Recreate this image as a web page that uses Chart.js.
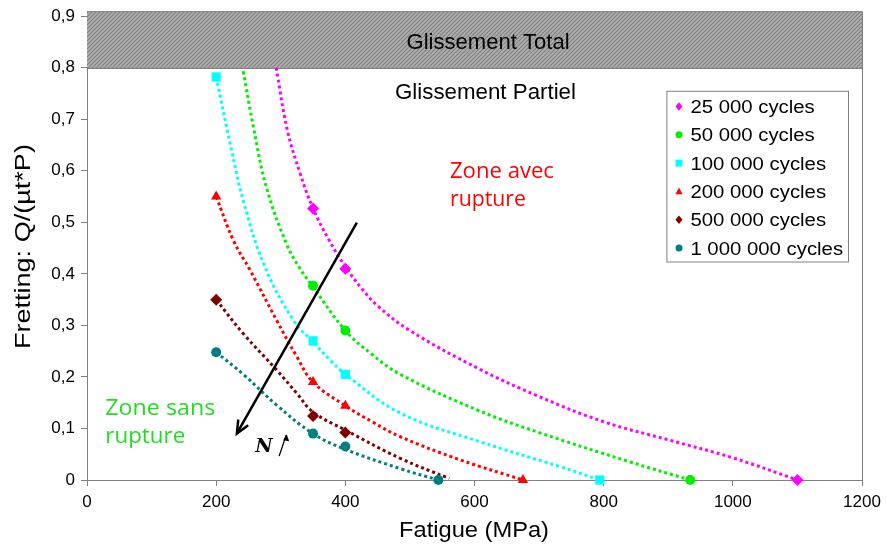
<!DOCTYPE html>
<html lang="fr">
<head>
<meta charset="UTF-8">
<title>Fretting / Fatigue</title>
<script src="https://cdn.jsdelivr.net/npm/chart.js"></script>
<style>
  html, body { margin: 0; padding: 0; background: #fff; }
</style>
</head>
<body>
<canvas id="chart" width="887" height="544"></canvas>
<script>
// series
const seriesNames = ['25 000 cycles', '50 000 cycles', '100 000 cycles', '200 000 cycles', '500 000 cycles', '1 000 000 cycles'];
const seriesColors = ['#ff00ff', '#00ee00', '#00ffff', '#ff0000', '#800000', '#007f80'];
const seriesMarkers = ['rectRot', 'circle', 'rect', 'triangle', 'rectRot', 'circle'];

// measured points : Fatigue (MPa) / Fretting Q/(µt*P)
const fatigue25k = [350, 400, 1100];
const fretting25k = [0.527, 0.41, 0];
const fatigue50k = [350, 400, 934];
const fretting50k = [0.377, 0.29, 0];
const fatigue100k = [200, 350, 400, 794];
const fretting100k = [0.782, 0.27, 0.205, 0];
const fatigue200k = [200, 350, 400, 675];
const fretting200k = [0.55, 0.19, 0.144, 0];
const fatigue500k = [200, 350, 400];
const fretting500k = [0.35, 0.124, 0.092];
const fatigue1M = [200, 350, 400, 544];
const fretting1M = [0.248, 0.09, 0.065, 0];

// dotted trend curves
const trendX25k = [293, 310, 330, 350, 375, 400, 425, 450, 500, 608, 700, 800, 900, 1000, 1100];
const trendY25k = [0.8, 0.68, 0.595, 0.527, 0.465, 0.414, 0.372, 0.338, 0.29, 0.215, 0.162, 0.113, 0.078, 0.043, 0];
const trendX50k = [242, 258, 278, 309, 330, 350, 400, 440, 485, 608, 700, 841, 934];
const trendY50k = [0.793, 0.683, 0.567, 0.458, 0.41, 0.375, 0.29, 0.245, 0.205, 0.134, 0.092, 0.035, 0];
const trendX100k = [200, 222, 242, 275, 320, 350, 377, 400, 485, 609, 732, 794];
const trendY100k = [0.782, 0.651, 0.542, 0.415, 0.309, 0.268, 0.232, 0.205, 0.13, 0.074, 0.026, 0];
const trendX200k = [200, 227, 253, 294, 325, 350, 400, 443, 485, 578, 675];
const trendY200k = [0.55, 0.464, 0.406, 0.309, 0.239, 0.19, 0.144, 0.112, 0.084, 0.039, 0];
const trendX500k = [200, 242, 294, 325, 350, 400, 485, 561];
const trendY500k = [0.35, 0.284, 0.213, 0.168, 0.132, 0.097, 0.042, 0.003];
const trendX1M = [200, 242, 294, 350, 397, 485, 544];
const trendY1M = [0.248, 0.205, 0.145, 0.09, 0.061, 0.022, 0];

// axes
const xTicks = [0, 200, 400, 600, 800, 1000, 1200];
const yTicks = [0, 0.1, 0.2, 0.3, 0.4, 0.5, 0.6, 0.7, 0.8, 0.9];
const totalSlipFrom = 0.8;

const pointSets = [[fatigue25k, fretting25k], [fatigue50k, fretting50k], [fatigue100k, fretting100k],
                   [fatigue200k, fretting200k], [fatigue500k, fretting500k], [fatigue1M, fretting1M]];
const trendSets = [[trendX25k, trendY25k], [trendX50k, trendY50k], [trendX100k, trendY100k],
                   [trendX200k, trendY200k], [trendX500k, trendY500k], [trendX1M, trendY1M]];

function zip(xs, ys) { return xs.map((x, i) => ({ x: x, y: ys[i] })); }

const markerSize = [6, 5, 6.5, 6, 6, 5];
var datasets = [];
pointSets.forEach((s, i) => {
    datasets.push({
        type: 'scatter',
        label: seriesNames[i],
        data: zip(s[0], s[1]),
        pointStyle: seriesMarkers[i],
        pointRadius: markerSize[i],
        backgroundColor: seriesColors[i],
        borderColor: seriesColors[i],
        borderWidth: 0,
        clip: false,
        order: 0
    });
});
trendSets.forEach((s, i) => {
    datasets.push({
        type: 'line',
        label: 'trend ' + seriesNames[i],
        data: zip(s[0], s[1]),
        showLine: true,
        borderColor: seriesColors[i],
        borderWidth: 3,
        borderDash: [3, 3],
        borderCapStyle: 'butt',
        pointRadius: 0,
        fill: false,
        tension: 0.4,
        clip: false,
        order: 1
    });
});

const FONT = "'Liberation Sans', Arial, sans-serif";

function fitText(ctx, text, x, y, font, width, align) {
    ctx.save();
    ctx.font = font;
    const w = ctx.measureText(text).width;
    const s = width ? width / w : 1;
    ctx.translate(x, y);
    ctx.scale(s, 1);
    ctx.textAlign = align || 'center';
    ctx.textBaseline = 'alphabetic';
    ctx.fillText(text, 0, 0);
    ctx.restore();
}

function drawMarker(ctx, style, x, y, r, color) {
    ctx.fillStyle = color;
    ctx.beginPath();
    if (style === 'circle') ctx.arc(x, y, r, 0, Math.PI * 2);
    else if (style === 'rect') ctx.rect(x - r, y - r, 2 * r, 2 * r);
    else if (style === 'rectRot') { ctx.moveTo(x, y - r * 1.2); ctx.lineTo(x + r, y); ctx.lineTo(x, y + r * 1.2); ctx.lineTo(x - r, y); }
    else if (style === 'triangle') { ctx.moveTo(x, y - r * 1.1); ctx.lineTo(x + r, y + r * 0.8); ctx.lineTo(x - r, y + r * 0.8); }
    ctx.closePath();
    ctx.fill();
}

function drawArrow(ctx, x1, y1, x2, y2, head, spread) {
    ctx.beginPath(); ctx.moveTo(x1, y1); ctx.lineTo(x2, y2); ctx.stroke();
    const a = Math.atan2(y2 - y1, x2 - x1);
    ctx.beginPath();
    ctx.moveTo(x2 - head * Math.cos(a - spread), y2 - head * Math.sin(a - spread));
    ctx.lineTo(x2, y2);
    ctx.lineTo(x2 - head * Math.cos(a + spread), y2 - head * Math.sin(a + spread));
    ctx.stroke();
}

function hatch(ctx) {
    const c = document.createElement('canvas');
    c.width = 4; c.height = 4;
    const g = c.getContext('2d');
    g.fillStyle = '#b0b0b0';
    g.fillRect(0, 0, 4, 4);
    g.strokeStyle = '#808080';
    g.lineWidth = 1.2;
    g.beginPath();
    g.moveTo(0, 4); g.lineTo(4, 0);
    g.moveTo(-1, 1); g.lineTo(1, -1);
    g.moveTo(3, 5); g.lineTo(5, 3);
    g.stroke();
    return ctx.createPattern(c, 'repeat');
}

const decor = {
    id: 'decor',
    beforeDatasetsDraw(chart) {
        const ctx = chart.ctx, ca = chart.chartArea, sy = chart.scales.y;
        const top = ca.top - 5, yb = sy.getPixelForValue(totalSlipFrom);
        ctx.save();
        ctx.fillStyle = hatch(ctx);
        ctx.fillRect(ca.left, top, ca.right - ca.left, yb - top);
        ctx.strokeStyle = '#555';
        ctx.lineWidth = 1;
        ctx.beginPath(); ctx.moveTo(ca.left, yb + 0.5); ctx.lineTo(ca.right, yb + 0.5); ctx.stroke();
        // plot frame top / right
        ctx.strokeStyle = '#808080';
        ctx.beginPath();
        ctx.moveTo(ca.left, top + 0.5); ctx.lineTo(ca.right + 0.5, top + 0.5); ctx.lineTo(ca.right + 0.5, ca.bottom);
        ctx.stroke();
        ctx.restore();
    },
    afterDraw(chart) {
        const ctx = chart.ctx, ca = chart.chartArea;
        const sx = chart.scales.x, sy = chart.scales.y;
        const px = v => sx.getPixelForValue(v), py = v => sy.getPixelForValue(v);
        ctx.save();
        ctx.fillStyle = '#000';
        fitText(ctx, 'Glissement Total', px(621), py(0.8356), '22px ' + FONT, 163);
        fitText(ctx, 'Glissement Partiel', px(617), py(0.739), '22px ' + FONT, 181);

        ctx.fillStyle = '#ff0000';
        fitText(ctx, 'Zone avec', px(562), py(0.586), "22px 'Open Sans', sans-serif", 104, 'left');
        fitText(ctx, 'rupture', px(562), py(0.532), "22px 'Open Sans', sans-serif", 76, 'left');
        ctx.fillStyle = '#22dd22';
        fitText(ctx, 'Zone sans', px(28.3), py(0.1257), "22px 'Open Sans', sans-serif", 110, 'left');
        fitText(ctx, 'rupture', px(28.3), py(0.0716), "22px 'Open Sans', sans-serif", 80, 'left');

        // N arrow
        ctx.strokeStyle = '#000';
        ctx.lineWidth = 2.5;
        drawArrow(ctx, px(417.8), py(0.4996), px(232.1), py(0.0903), 14, 0.42);
        ctx.fillStyle = '#000';
        ctx.font = "bold italic 19px 'DejaVu Serif', 'Liberation Serif', serif";
        ctx.textAlign = 'left';
        ctx.fillText('N', px(260.5), py(0.0547));
        ctx.lineWidth = 1.3;
        ctx.beginPath(); ctx.moveTo(px(297.5), py(0.0464)); ctx.lineTo(px(308.4), py(0.087)); ctx.stroke();
        const ax = px(308.4), ay = py(0.087);
        ctx.beginPath(); ctx.moveTo(ax + 0.5, ay - 1); ctx.lineTo(ax + 3, ay + 6); ctx.lineTo(ax - 3, ay + 5); ctx.closePath(); ctx.fill();

        // legend
        const lx = ca.right - 195.6, ly = ca.top + 74.6;
        ctx.fillStyle = '#fff';
        ctx.fillRect(lx, ly, 181.6, 170.7);
        ctx.strokeStyle = '#808080';
        ctx.lineWidth = 1;
        ctx.strokeRect(lx + 0.5, ly + 0.5, 181.6, 170.7);
        seriesNames.forEach((name, i) => {
            const cy = ly + 15.7 + i * 28.3;
            drawMarker(ctx, seriesMarkers[i], lx + 12.6, cy, 3.5, seriesColors[i]);
            ctx.fillStyle = '#000';
            ctx.font = '18px ' + FONT;
            const w = ctx.measureText(name).width;
            fitText(ctx, name, lx + 24, cy + 6.5, '18px ' + FONT, w * 1.13, 'left');
        });

        // axis titles
        ctx.fillStyle = '#000';
        fitText(ctx, 'Fatigue (MPa)', (ca.left + ca.right) / 2 - 0.5, 536.5, '22px ' + FONT, 150);
        ctx.save();
        ctx.translate(30, (ca.top + ca.bottom) / 2 - 1.5);
        ctx.rotate(-Math.PI / 2);
        fitText(ctx, 'Fretting: Q/(µt*P)', 0, 0, '22px ' + FONT, 205);
        ctx.restore();
        ctx.restore();
    }
};

new Chart(document.getElementById('chart'), {
    type: 'scatter',
    data: { datasets: datasets },
    plugins: [decor],
    options: {
        responsive: false,
        animation: false,
        events: [],
        layout: { padding: { top: 15, right: 25, left: 0, bottom: 0 } },
        plugins: { legend: { display: false }, tooltip: { enabled: false } },
        scales: {
            x: {
                type: 'linear',
                min: xTicks[0],
                max: xTicks[xTicks.length - 1],
                afterBuildTicks: s => { s.ticks = xTicks.map(v => ({ value: v })); },
                afterFit: s => { s.height = 64; },
                ticks: { color: '#000', font: { family: FONT, size: 17 }, padding: 6, maxRotation: 0,
                         callback: v => String(v) },
                grid: { display: true, drawOnChartArea: false, drawTicks: true, tickLength: 6, color: '#808080' },
                border: { display: true, color: '#808080', width: 1 }
            },
            y: {
                type: 'linear',
                min: yTicks[0],
                max: yTicks[yTicks.length - 1],
                afterBuildTicks: s => { s.ticks = yTicks.map(v => ({ value: v })); },
                afterFit: s => { s.width = 87; },
                ticks: { color: '#000', font: { family: FONT, size: 17 }, padding: 6,
                         callback: v => v === 0 ? '0' : v.toFixed(1).replace('.', ',') },
                grid: { display: true, drawOnChartArea: false, drawTicks: true, tickLength: 6, color: '#808080' },
                border: { display: true, color: '#808080', width: 1 }
            }
        }
    }
});
</script>
</body>
</html>
